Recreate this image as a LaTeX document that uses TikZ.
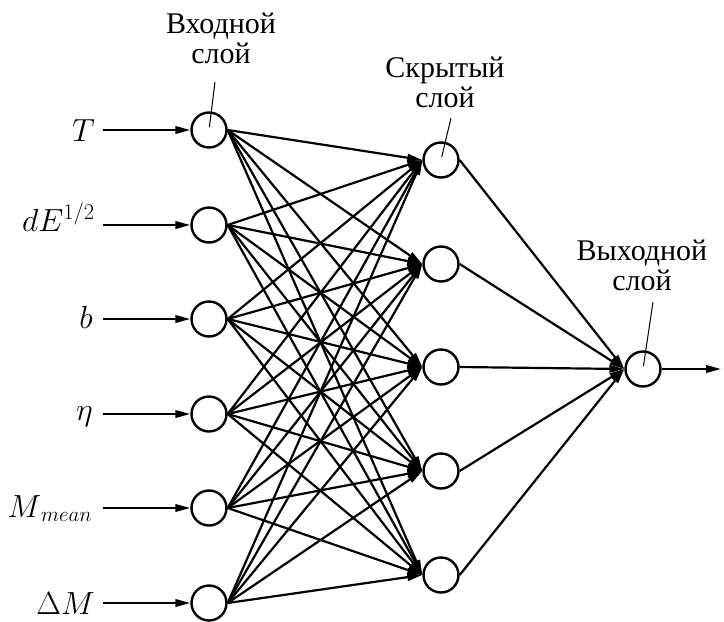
\RequirePackage{fix-cm}
\documentclass[tikz,border=0pt]{standalone}
\usepackage{fontspec}
\setmainfont{Liberation Serif}
\newfontfamily\labfont{Liberation Serif}
\usetikzlibrary{arrows.meta}
\begin{document}
\begin{tikzpicture}[x=1pt,y=-1pt,
  neuron/.style={circle,draw,line width=2.4pt,minimum size=35pt,inner sep=0pt},
  link/.style={line width=2.2pt,-{Triangle[length=15pt,width=7.5pt]}},
  leader/.style={line width=1pt,shorten >=3pt},
  inlab/.style={anchor=base east,inner sep=0pt,font=\fontsize{32}{32}\selectfont},
  laylab/.style={align=center,anchor=base,inner sep=0pt,font=\labfont\fontsize{30}{30}\selectfont}]
\useasboundingbox (0,0) rectangle (724,622);
% input layer
\foreach \i/\y in {1/130,2/225,3/319,4/414,5/508,6/603}{
  \node[neuron] (in\i) at (209,\y) {};
  \coordinate (s\i) at (103,\y);
}
% hidden layer
\foreach \j/\y in {1/160,2/264,3/367,4/471,5/575}
  \node[neuron] (h\j) at (441,\y) {};
% output
\node[neuron] (out) at (643,369) {};
\coordinate (oend) at (721,369);
% input labels
\node[inlab] (l1) at (95,141) {$T$};
\node[inlab] (l2) at (95,231) {$dE^{1/2}$};
\node[inlab] (l3) at (93,328) {$b$};
\node[inlab] (l4) at (93,420) {$\eta$};
\node[inlab] (l5) at (92,517) {$M$\raisebox{-4pt}{\fontsize{21}{21}\selectfont$\mathnormal{mean}$}};
\node[inlab] (l6) at (95,614) {$\Delta M$};
% input arrows
\foreach \i in {1,...,6} \draw[link] (s\i) -- (in\i.west);
% input to hidden
\foreach \i in {1,...,6}
  \foreach \j in {1,...,5}
    \draw[link] (in\i.east) -- (h\j.west);
% hidden to output
\foreach \j in {1,...,5} \draw[link] (h\j.east) -- (out.west);
\draw[link] (out.east) -- (oend);
% layer labels
\node[laylab] (t1) at (221,63) {Входной\\слой};
\node[laylab] (t2) at (445,107) {Скрытый\\слой};
\node[laylab] (t3) at (642,290) {Выходной\\слой};
\coordinate (c1) at (215,82);
\coordinate (c2) at (451,118);
\coordinate (c3) at (653,302);
\draw[leader] (c1) -- (in1.center);
\draw[leader] (c2) -- (h1.center);
\draw[leader] (c3) -- (out.center);
\end{tikzpicture}
\end{document}
